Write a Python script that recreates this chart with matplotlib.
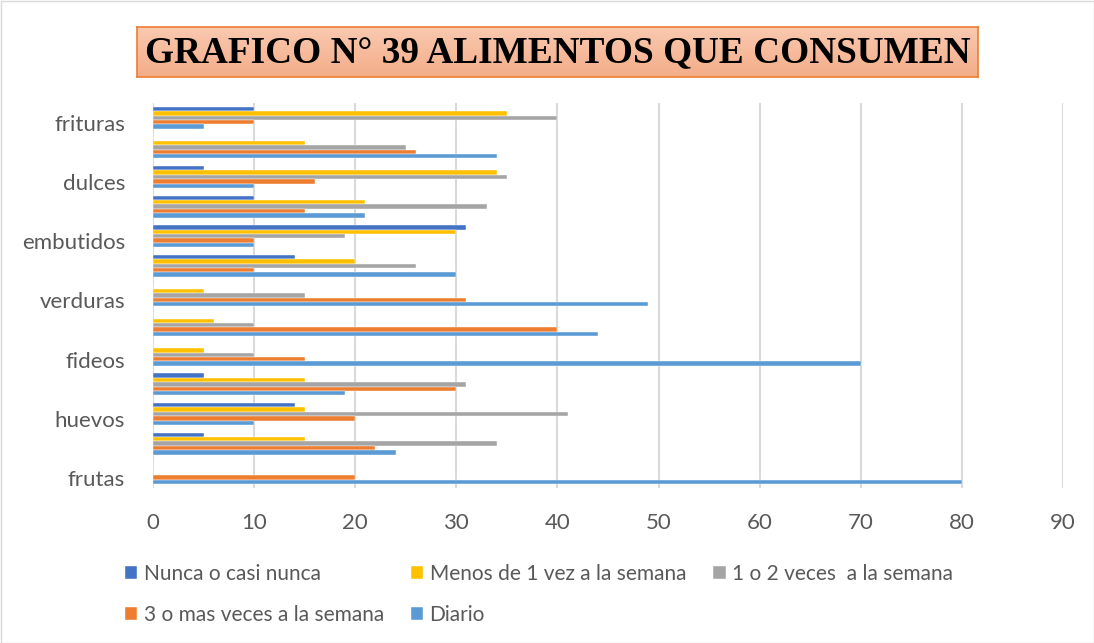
import matplotlib
matplotlib.use("Agg")
import matplotlib.pyplot as plt
from matplotlib.colors import LinearSegmentedColormap
from matplotlib.transforms import ScaledTranslation
import numpy as np

# Food groups, bottom to top (only alternate groups carry a label)
categorias = ["frutas", "", "huevos", "", "fideos", "", "verduras", "",
              "embutidos", "", "dulces", "", "frituras"]

series = ["Nunca o casi nunca", "Menos de 1 vez a la semana",
          "1 o 2 veces  a la semana", "3 o mas veces a la semana", "Diario"]

nunca = [0, 5, 14, 5, 0, 0, 0, 14, 31, 10, 5, 0, 10]
menos_1 = [0, 15, 15, 15, 5, 6, 5, 20, 30, 21, 34, 15, 35]
una_dos = [0, 34, 41, 31, 10, 10, 15, 26, 19, 33, 35, 25, 40]
tres_mas = [20, 22, 20, 30, 15, 40, 31, 10, 10, 15, 16, 26, 10]
diario = [80, 24, 10, 19, 70, 44, 49, 30, 10, 21, 10, 34, 5]

valores = [nunca, menos_1, una_dos, tres_mas, diario]
colores = ["#4472C4", "#FFC000", "#A5A5A5", "#ED7D31", "#5B9BD5"]
xticks = [0, 10, 20, 30, 40, 50, 60, 70, 80, 90]

W, H = 1094, 643
fig = plt.figure(figsize=(W / 100, H / 100), dpi=100)
plt.rcParams["font.family"] = ["Lato", "DejaVu Sans"]

ax = fig.add_axes([153 / W, 1 - 488 / H, (1063 - 153) / W, (488 - 103) / H])

y = np.arange(len(categorias))
h = 0.148
handles = []
for i, (vals, col, name) in enumerate(zip(valores, colores, series)):
    off = (2 - i) * h
    b = ax.barh(y + off, vals, height=h, color=col, label=name,
                edgecolor="white", linewidth=0.3, zorder=3)
    handles.append(b)

ax.set_xlim(0, 90)
ax.set_ylim(-0.5, len(categorias) - 0.5)
ax.set_xticks(xticks)
ax.set_yticks(y)
ax.set_yticklabels(categorias)
ax.grid(axis="x", color="#D9D9D9", linewidth=1.5, zorder=0)
for s in ax.spines.values():
    s.set_visible(False)
ax.tick_params(axis="both", length=0, labelsize=16, labelcolor="#595959")
ax.tick_params(axis="x", pad=18)
ax.tick_params(axis="y", pad=20)
# Category labels sit a little below the group centre
shift = ScaledTranslation(0, -5 / 100, fig.dpi_scale_trans)
for lbl in ax.get_yticklabels():
    lbl.set_transform(lbl.get_transform() + shift)

# Title box with a soft peach gradient
tax = fig.add_axes([137 / W, 1 - 77 / H, (978 - 137) / W, 50 / H])
grad = np.linspace(0, 1, 64).reshape(-1, 1)
cmap = LinearSegmentedColormap.from_list("peach", ["#F9C9B0", "#F4AD88"])
tax.imshow(grad, aspect="auto", cmap=cmap, extent=(0, 1, 0, 1), origin="upper")
tax.set_xticks([])
tax.set_yticks([])
for s in tax.spines.values():
    s.set_edgecolor("#ED7D31")
    s.set_linewidth(1.2)
tax.text(0.5, 0.46, "GRAFICO N° 39 ALIMENTOS QUE CONSUMEN",
         transform=tax.transAxes, ha="center", va="center", fontsize=26.8,
         fontweight="bold", family=["Liberation Serif", "DejaVu Serif"],
         color="black")

# Outer frame
frame = plt.Rectangle((0.5 / W, 0.5 / H), (W - 1) / W, (H - 1) / H,
                      transform=fig.transFigure, fill=False,
                      edgecolor="#D9D9D9", linewidth=1)
fig.patches.append(frame)

# Legend filled row by row: three entries on the first row, two on the second
orden = [0, 3, 1, 4, 2]
fig.legend([handles[k] for k in orden], [series[k] for k in orden],
           loc="upper left", bbox_to_anchor=(106 / W, 1 - 545 / H), ncol=3,
           frameon=False, fontsize=15, handlelength=0.6, handleheight=0.6,
           handletextpad=0.3, columnspacing=1.3, labelspacing=1.0,
           labelcolor="#595959")

fig.savefig("out.png", dpi=100)
